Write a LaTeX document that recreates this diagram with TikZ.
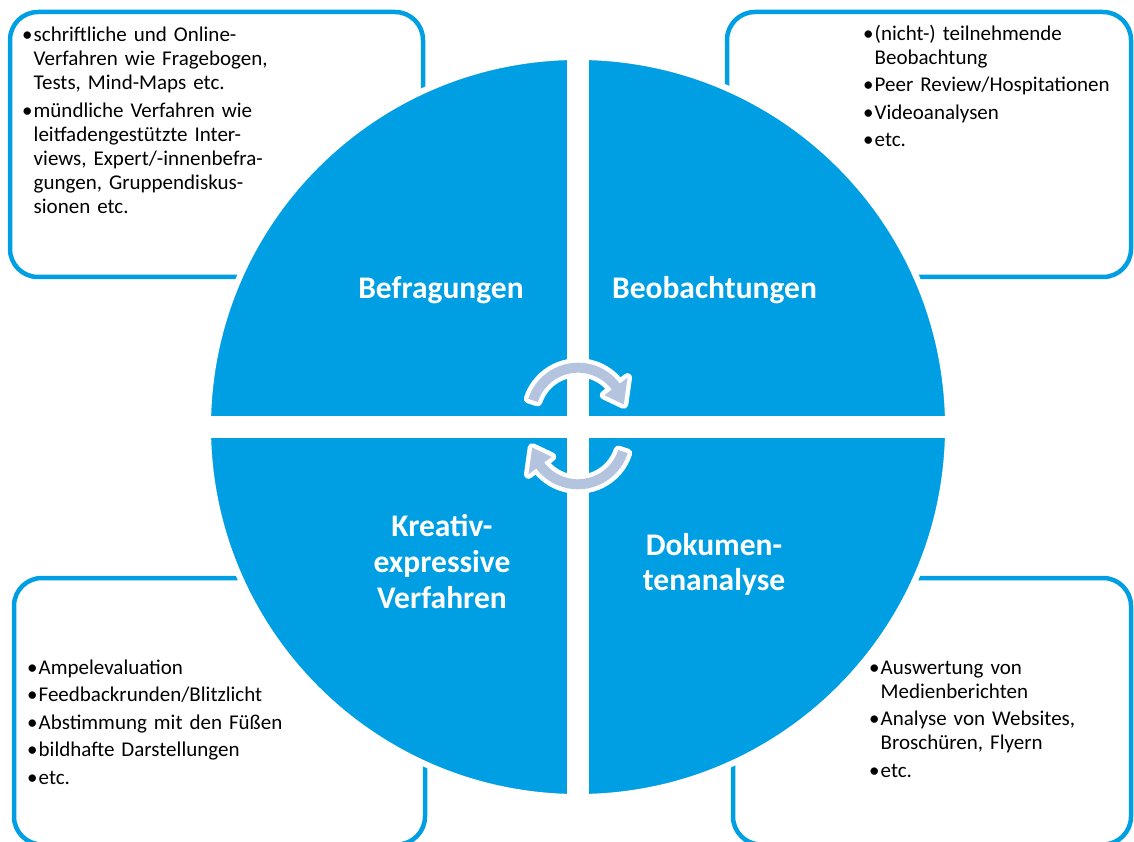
\documentclass[tikz,border=0pt]{standalone}
\usepackage{fontspec}
\setmainfont{Carlito}
\usetikzlibrary{positioning}

\definecolor{hellblau}{RGB}{0,159,227}
\definecolor{pfeilgrau}{RGB}{181,196,222}
\newcommand\pkt{\makebox[11.5pt][l]{\textbullet}}
\newcommand\ein{\hspace*{11.5pt}}

\begin{document}
\begin{tikzpicture}[x=1pt,y=1pt,
                    kasten/.style={draw=hellblau,line width=4.5pt,rounded corners=28pt},
                    liste/.style={anchor=base west,inner sep=0pt,text width=265pt,align=left,
                                  font=\fontsize{21}{24}\selectfont},
                    titel/.style={anchor=base,inner sep=0pt,text width=220pt,align=center,
                                  text=white,font=\fontsize{31.5}{35.5}\selectfont\bfseries},
                    pfeil/.style={fill=pfeilgrau,preaction={draw=white,line width=9pt,line join=round}}]

  \clip (0,0) rectangle (1134,841);

  % Kaesten
  \draw[kasten] (10,564) rectangle (423,829);
  \draw[kasten] (727,564) rectangle (1131,829);
  \draw[kasten] (14,-3.5) rectangle (425,263);
  \draw[kasten] (733,-3.5) rectangle (1131,263);

  % Kreis in vier Teilen
  \draw[white,line width=6pt,fill=hellblau] (578,414) circle (370);
  \fill[white] (567,40) rectangle (589,788);
  \fill[white] (204,403) rectangle (952,425);

  % Kreispfeile
  \foreach \my/\rot in {426/0,404/180}
    \path[pfeil,shift={(578,\my)},rotate=\rot]
      (162:52.3) arc[start angle=162,end angle=37,radius=52.3]
      -- (37:62) -- (13:47) -- (37:33) -- (37:42.3)
      arc[start angle=37,end angle=162,radius=42.3] -- cycle;

  \node[titel] (befr) at (441,542) {Befragungen};
  \node[titel] (beob) at (714.5,542) {Beobachtungen};
  \node[titel] (krea) at (442,304) {Kreativ-\\expressive\\Verfahren};
  \node[titel] (doku) at (714,286) {Dokumen-\\tenanalyse};

  \node[liste] (lo) at (22,799) {\pkt schriftliche und Online-\\
    \ein Verfahren wie Fragebogen,\\
    \ein Tests, Mind-Maps etc.\\[3.5pt]
    \pkt m\"undliche Verfahren wie\\
    \ein leitfadengest\"utzte Inter-\\
    \ein views, Expert/-innenbefra-\\
    \ein gungen, Gruppendiskus-\\
    \ein sionen etc.};
  \node[liste] (ro) at (863,800.5) {\pkt (nicht-) teilnehmende\\
    \ein Beobachtung\\[3.5pt]
    \pkt Peer Review/Hospitationen\\[3.5pt]
    \pkt Videoanalysen\\[3.5pt]
    \pkt etc.};
  \node[liste] (lu) at (27,167) {\pkt Ampelevaluation\\[3.5pt]
    \pkt Feedbackrunden/Blitzlicht\\[3.5pt]
    \pkt Abstimmung mit den F\"u\ss en\\[3.5pt]
    \pkt bildhafte Darstellungen\\[3.5pt]
    \pkt etc.};
  \node[liste] (ru) at (869,167) {\pkt Auswertung von\\
    \ein Medienberichten\\[3.5pt]
    \pkt Analyse von Websites,\\
    \ein Brosch\"uren, Flyern\\[3.5pt]
    \pkt etc.};
\end{tikzpicture}
\end{document}
